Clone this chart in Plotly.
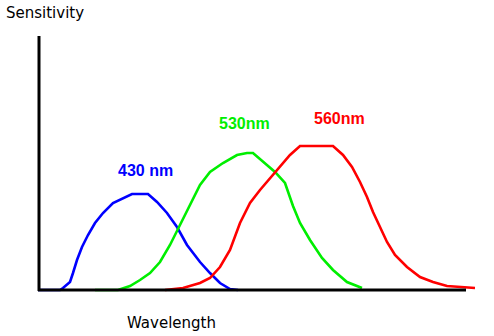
import plotly.graph_objects as go

# Wavelength positions (arbitrary units) and sensitivity values
blue_x = [38, 60, 63, 70, 73, 77, 82, 88, 95, 103, 113, 123, 132, 148, 157, 167, 177, 187, 200, 210, 220, 230, 238]
blue_s = [0, 0, 2, 8, 17, 30, 43, 55, 67, 77, 87, 92, 96, 96, 88, 77, 63, 45, 28, 17, 7, 1, 0]

green_x = [95, 118, 130, 140, 150, 160, 170, 180, 190, 200, 210, 223, 237, 247, 253, 263, 275, 285, 290, 293, 300, 310, 322, 333, 347, 362]
green_s = [0, 0, 4, 10, 17, 28, 45, 65, 86, 105, 118, 127, 135, 137, 137, 128, 118, 107, 93, 84, 67, 50, 32, 20, 8, 2]

red_x = [165, 183, 200, 210, 220, 230, 240, 250, 260, 270, 280, 290, 300, 333, 343, 352, 360, 367, 373, 380, 387, 395, 407, 420, 433, 447, 475]
red_s = [0, 2, 7, 12, 23, 40, 67, 87, 100, 112, 123, 135, 144, 144, 135, 123, 108, 93, 78, 63, 48, 35, 23, 13, 8, 4, 2]

labels = ["430 nm", "530nm", "560nm"]
label_x = [145, 244, 339]
label_s = [120, 167, 172]
colors = ["#0000ff", "#00ee00", "#ff0000"]

fig = go.Figure()
for xs, ys, c in [(blue_x, blue_s, colors[0]), (green_x, green_s, colors[1]), (red_x, red_s, colors[2])]:
    fig.add_trace(go.Scatter(x=xs, y=ys, mode="lines", line=dict(color=c, width=2.6),
                             hoverinfo="skip", showlegend=False))

for t, x, y, c in zip(labels, label_x, label_s, colors):
    fig.add_annotation(x=x, y=y, text=t, showarrow=False, xanchor="center", yanchor="middle",
                       font=dict(family="Liberation Sans", size=16, color=c, weight="bold"))

# axes lines
fig.add_shape(type="line", x0=39, x1=39, y0=-1, y1=254, line=dict(color="black", width=3))
fig.add_shape(type="line", x0=38, x1=466, y0=0, y1=0, line=dict(color="black", width=3))

fig.add_annotation(x=4, y=277, text="Sensitivity", showarrow=False, xanchor="left", yanchor="middle",
                   font=dict(family="DejaVu Sans", size=15, color="black"))
fig.add_annotation(x=125, y=-33, text="Wavelength", showarrow=False, xanchor="left", yanchor="middle",
                   font=dict(family="DejaVu Sans", size=15, color="black"))

fig.update_layout(
    width=494, height=336, margin=dict(l=0, r=0, t=0, b=0),
    paper_bgcolor="white", plot_bgcolor="white",
    xaxis=dict(range=[0, 494], visible=False, fixedrange=True),
    yaxis=dict(range=[-46, 290], visible=False, fixedrange=True),
)
fig.write_html("out.html", config={"displayModeBar": False},
               post_script="document.body.style.margin='0';document.body.style.overflow='hidden';")
